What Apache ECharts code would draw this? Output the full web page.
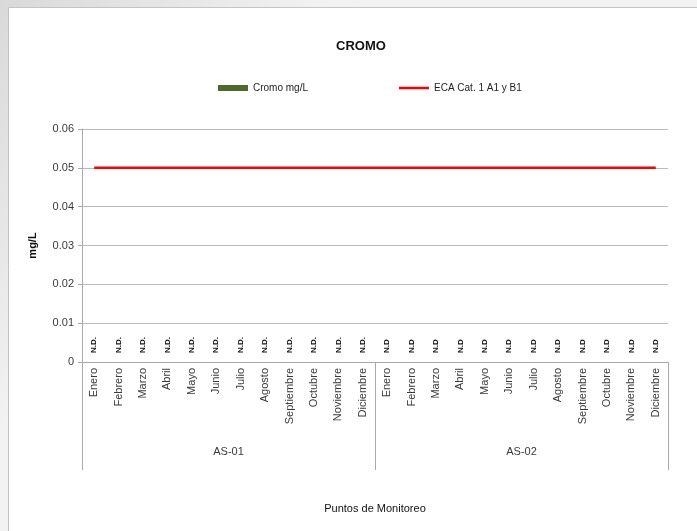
<!DOCTYPE html>
<html>
<head>
<meta charset="utf-8">
<script src="https://cdn.jsdelivr.net/npm/echarts@6/dist/echarts.min.js"></script>
<style>
html,body{margin:0;padding:0;background:#e6e6e6;}
#c{width:697px;height:531px;}
</style>
</head>
<body>
<div id="c"></div>
<script>
var months = ['Enero','Febrero','Marzo','Abril','Mayo','Junio','Julio','Agosto','Septiembre','Octubre','Noviembre','Diciembre',
              'Enero','Febrero','Marzo','Abril','Mayo','Junio','Julio','Agosto','Septiembre','Octubre','Noviembre','Diciembre'];
var stations = ['AS-01','AS-02'];
var cromoValues = [0,0,0,0,0,0,0,0,0,0,0,0, 0,0,0,0,0,0,0,0,0,0,0,0];
var cromoLabels = ['N.D.','N.D.','N.D.','N.D.','N.D.','N.D.','N.D.','N.D.','N.D.','N.D.','N.D.','N.D.',
                   'N.D','N.D','N.D','N.D','N.D','N.D','N.D','N.D','N.D','N.D','N.D','N.D'];
var ecaValues = [0.05,0.05,0.05,0.05,0.05,0.05,0.05,0.05,0.05,0.05,0.05,0.05,
                 0.05,0.05,0.05,0.05,0.05,0.05,0.05,0.05,0.05,0.05,0.05,0.05];
var seriesNames = ['Cromo mg/L', 'ECA Cat. 1 A1 y B1'];

var chart = echarts.init(document.getElementById('c'), null, {renderer:'canvas'});
var font = 'Liberation Sans, Arial, sans-serif';
chart.setOption({
  backgroundColor: {
    type:'linear', x:0, y:0, x2:1, y2:1,
    colorStops:[{offset:0,color:'#d9d9d9'},{offset:0.3,color:'#f2f2f2'},{offset:1,color:'#f2f2f2'}]
  },
  textStyle:{fontFamily:font},
  graphic:[{
    type:'rect', silent:true, z:-10,
    shape:{x:8.5, y:7.5, width:700, height:540},
    style:{fill:'#ffffff', stroke:'#c4c4c4', lineWidth:1}
  }],
  title:{
    text:'CROMO', left:356, top:35, textAlign:'center',
    textStyle:{fontFamily:font, fontSize:13, fontWeight:'bold', color:'#111'}
  },
  legend:[{
    data:[{name:seriesNames[0], icon:'rect'}], left:213, top:78,
    itemWidth:30, itemHeight:6, itemGap:5,
    textStyle:{fontFamily:font, fontSize:10, color:'#222'}
  },{
    data:[{name:seriesNames[1], icon:'rect'}], left:394, top:78,
    itemWidth:30, itemHeight:2.5,
    textStyle:{fontFamily:font, fontSize:10, color:'#222'}
  }],
  grid:{left:82, right:29, top:129, bottom:169, containLabel:false},
  xAxis:[{
    type:'category', data:months, position:'bottom',
    axisLine:{show:true, lineStyle:{color:'#aaaaaa'}},
    axisTick:{show:false},
    axisLabel:{interval:0, rotate:90, fontSize:11, color:'#3a3a3a', margin:6, fontFamily:font}
  },{
    type:'category', data:stations, position:'bottom',
    axisLine:{show:false},
    axisTick:{show:true, length:108, interval:0, lineStyle:{color:'#aaaaaa'}},
    axisLabel:{interval:0, fontSize:11, color:'#3a3a3a', margin:84, fontFamily:font},
    name:'Puntos de Monitoreo', nameLocation:'middle', nameGap:141,
    nameTextStyle:{fontFamily:font, fontSize:11, color:'#111'}
  }],
  yAxis:{
    type:'value', min:0, max:0.06, interval:0.01,
    name:'mg/L', nameLocation:'middle', nameGap:44, nameRotate:90,
    nameTextStyle:{fontFamily:font, fontSize:11, fontWeight:'bold', color:'#111'},
    axisLine:{show:true, lineStyle:{color:'#aaaaaa'}},
    axisTick:{show:true, length:4, lineStyle:{color:'#aaaaaa'}},
    axisLabel:{fontSize:11, color:'#3a3a3a', margin:8, fontFamily:font,
      formatter:function(v){ return v===0 ? '0' : v.toFixed(2); }},
    splitLine:{show:true, lineStyle:{color:'#bbbbbb'}}
  },
  series:[{
    name:seriesNames[0], type:'bar', xAxisIndex:0,
    data:cromoValues, barWidth:'50%',
    itemStyle:{color:'#4f6b2a'},
    label:{show:true, position:'top', distance:9, rotate:90, align:'left', verticalAlign:'middle',
      fontSize:8, fontWeight:'bold', color:'#111', fontFamily:font,
      formatter:function(p){ return cromoLabels[p.dataIndex]; }}
  },{
    name:seriesNames[1], type:'line', xAxisIndex:0,
    data:ecaValues, symbol:'none',
    lineStyle:{color:'#ff0000', width:2.5},
    itemStyle:{color:'#ff0000'}
  }]
});
</script>
</body>
</html>
